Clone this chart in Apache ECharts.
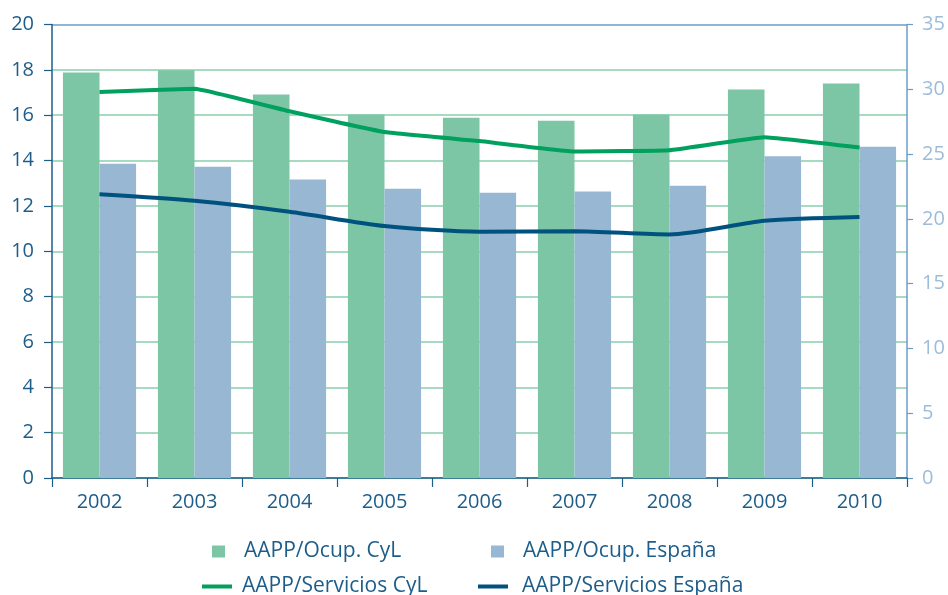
<!DOCTYPE html>
<html>
<head>
<meta charset="utf-8">
<script src="https://cdn.jsdelivr.net/npm/echarts@6/dist/echarts.min.js"></script>
<style>
  html, body { margin: 0; padding: 0; background: #ffffff; }
  #chart { width: 948px; height: 595px; }
</style>
</head>
<body>
<div id="chart"></div>
<script>
const years = ['2002', '2003', '2004', '2005', '2006', '2007', '2008', '2009', '2010'];
const ocupCyL = [17.88, 17.98, 16.91, 16.03, 15.89, 15.76, 16.03, 17.13, 17.40];
const ocupEspana = [13.86, 13.73, 13.16, 12.76, 12.58, 12.63, 12.89, 14.19, 14.61];
const serviciosCyL = [29.8, 30.05, 28.3, 26.7, 26.0, 25.2, 25.3, 26.3, 25.5];
const serviciosEspana = [21.9, 21.4, 20.55, 19.45, 19.0, 19.05, 18.8, 19.85, 20.15];
const leftTicks = { min: 0, max: 20, interval: 2 };
const rightTicks = { min: 0, max: 35, interval: 5 };

const FONT = 'Open Sans';
const DARK = '#1d5d8a';
const GREEN_BAR = '#7dc6a5';
const BLUE_BAR = '#97b7d3';
const GREEN_LINE = '#00a05e';
const DARK_LINE = '#00527e';

const gridColors = [];
for (let i = 0; i <= 10; i++) gridColors.push(i === 10 ? '#6a9fc6' : '#8acfac');

const chart = echarts.init(document.getElementById('chart'));
const legendText = { fontFamily: FONT, fontSize: 21, color: DARK };
chart.setOption({
  animation: false,
  grid: { left: 52, right: 41, top: 24.5, bottom: 117, containLabel: false },
  legend: [
    { data: ['AAPP/Ocup. CyL'], left: 212, top: 541, padding: 0, icon: 'rect', itemWidth: 13, itemHeight: 12,
      textStyle: Object.assign({ padding: [0, 0, 0, 14] }, legendText) },
    { data: ['AAPP/Ocup. España'], left: 491, top: 541, padding: 0, icon: 'rect', itemWidth: 13, itemHeight: 12,
      textStyle: Object.assign({ padding: [0, 0, 0, 14] }, legendText) },
    { data: ['AAPP/Servicios CyL'], left: 202, top: 576, padding: 0, icon: 'rect', itemWidth: 30, itemHeight: 4,
      textStyle: Object.assign({ padding: [0, 0, 0, 5] }, legendText) },
    { data: ['AAPP/Servicios España'], left: 478, top: 576, padding: 0, icon: 'rect', itemWidth: 30, itemHeight: 4,
      textStyle: Object.assign({ padding: [0, 0, 0, 9] }, legendText) }
  ],
  xAxis: {
    type: 'category',
    data: years,
    axisLine: { lineStyle: { color: DARK, width: 1.5 } },
    axisTick: { show: true, length: 9, lineStyle: { color: DARK, width: 1.2 } },
    axisLabel: { fontFamily: FONT, fontSize: 20, color: DARK, margin: 14 },
    splitLine: { show: false }
  },
  yAxis: [
    {
      type: 'value',
      min: leftTicks.min, max: leftTicks.max, interval: leftTicks.interval,
      axisLine: { show: true, lineStyle: { color: DARK, width: 1.5 } },
      axisTick: { show: true, length: 8, lineStyle: { color: DARK, width: 1.2 } },
      axisLabel: { fontFamily: FONT, fontSize: 20, color: DARK, margin: 18 },
      splitLine: { show: true, lineStyle: { color: gridColors, width: 1.5 } }
    },
    {
      type: 'value',
      min: rightTicks.min, max: rightTicks.max, interval: rightTicks.interval,
      position: 'right',
      axisLine: { show: true, lineStyle: { color: '#6e9dc4', width: 1.5 } },
      axisTick: { show: true, length: 6, lineStyle: { color: '#6e9dc4', width: 1.2 } },
      axisLabel: { fontFamily: FONT, fontSize: 20, color: '#9cbcd9', margin: 15 },
      splitLine: { show: false }
    }
  ],
  series: [
    { name: 'AAPP/Ocup. CyL', type: 'bar', data: ocupCyL, yAxisIndex: 0,
      barGap: '0%', barCategoryGap: '23%', itemStyle: { color: GREEN_BAR } },
    { name: 'AAPP/Ocup. España', type: 'bar', data: ocupEspana, yAxisIndex: 0,
      barGap: '0%', barCategoryGap: '23%', itemStyle: { color: BLUE_BAR } },
    { name: 'AAPP/Servicios CyL', type: 'line', data: serviciosCyL, yAxisIndex: 1,
      showSymbol: false, symbol: 'none', smooth: 0.08, color: GREEN_LINE,
      lineStyle: { color: GREEN_LINE, width: 4 }, itemStyle: { color: GREEN_LINE } },
    { name: 'AAPP/Servicios España', type: 'line', data: serviciosEspana, yAxisIndex: 1,
      showSymbol: false, symbol: 'none', smooth: 0.25, color: DARK_LINE,
      lineStyle: { color: DARK_LINE, width: 4 }, itemStyle: { color: DARK_LINE } }
  ]
});
</script>
</body>
</html>
